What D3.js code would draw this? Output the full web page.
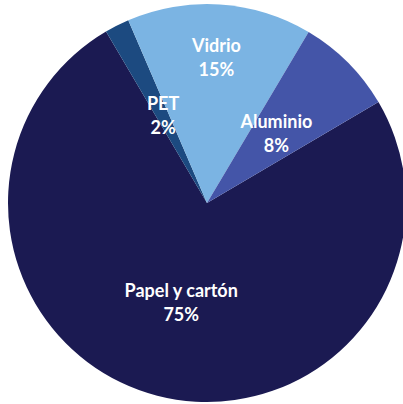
<!DOCTYPE html>
<html><head><meta charset="utf-8">
<script src="https://cdn.jsdelivr.net/npm/d3@7"></script>
<style>html,body{margin:0;padding:0;background:#fff;overflow:hidden}</style>
</head><body>
<svg id="c" width="403" height="404"></svg>
<script>
const categories = ["Papel y cartón", "PET", "Vidrio", "Aluminio"];
const values = [75, 2, 15, 8];
const valueLabels = ["75%", "2%", "15%", "8%"];
const colors = ["#1b1a52", "#1c4a80", "#7bb4e3", "#4455a8"];

const cx = 207, cy = 203, R = 199;
const labelR = [103, 97, 145, 98];
const startDeg = 59.5;

const svg = d3.select("#c");
const g = svg.append("g").attr("transform", `translate(${cx},${cy})`);
const pie = d3.pie().sort(null).value(d => d)
  .startAngle(startDeg * Math.PI / 180)
  .endAngle((startDeg + 360) * Math.PI / 180);
const arcs = pie(values);
const arc = d3.arc().innerRadius(0).outerRadius(R);

g.selectAll("path").data(arcs).enter().append("path")
  .attr("d", arc).attr("fill", (d, i) => colors[i]);

const lbl = g.selectAll("text.l").data(arcs).enter().append("text")
  .attr("class", "l")
  .attr("transform", (d, i) => {
    const c = d3.arc().innerRadius(labelR[i]).outerRadius(labelR[i]).centroid(d);
    return `translate(${c[0]},${c[1]})`;
  })
  .attr("text-anchor", "middle")
  .attr("fill", "#ffffff")
  .style("font-family", "Lato, 'Open Sans', sans-serif")
  .style("font-weight", "bold")
  .style("font-size", "18px");
lbl.append("tspan").attr("x", 0).attr("y", -6).text((d, i) => categories[i]);
lbl.append("tspan").attr("x", 0).attr("y", 18).text((d, i) => valueLabels[i]);
</script>
</body></html>
